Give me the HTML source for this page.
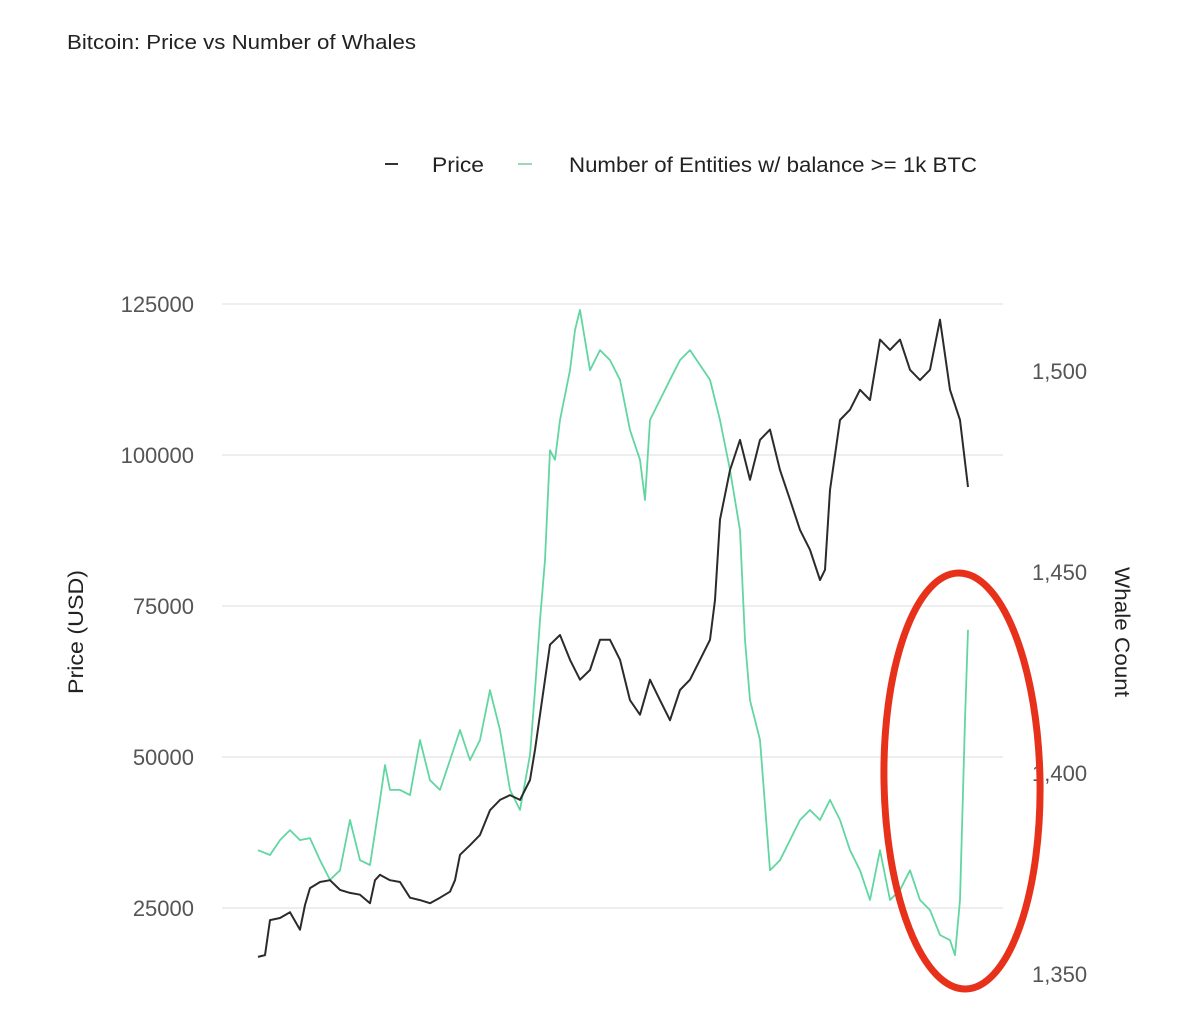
<!DOCTYPE html>
<html><head><meta charset="utf-8">
<style>
html,body{margin:0;padding:0;background:#fff;width:1200px;height:1020px;overflow:hidden;}
svg text{font-family:"Liberation Sans",sans-serif;}
</style></head>
<body>
<svg id="chart" width="1200" height="1020">
  <text x="67" y="49" font-size="20" fill="#222" textLength="349" lengthAdjust="spacingAndGlyphs">Bitcoin: Price vs Number of Whales</text>
  <g>
    <line x1="385" y1="164" x2="398" y2="164" stroke="#333" stroke-width="2"/>
    <text x="432" y="172" font-size="21" fill="#222" textLength="52" lengthAdjust="spacingAndGlyphs">Price</text>
    <line x1="518" y1="164" x2="532" y2="164" stroke="#9bd8b8" stroke-width="2"/>
    <text x="569" y="172" font-size="21" fill="#222" textLength="408" lengthAdjust="spacingAndGlyphs">Number of Entities w/ balance &gt;= 1k BTC</text>
  </g>
  <g id="grid"></g>
  <g id="lticks"></g>
  <g id="rticks"></g>
  <text transform="translate(83,632) rotate(-90)" text-anchor="middle" font-size="21" fill="#222" textLength="124" lengthAdjust="spacingAndGlyphs">Price (USD)</text>
  <text transform="translate(1115,632) rotate(90)" text-anchor="middle" font-size="21" fill="#222" textLength="130" lengthAdjust="spacingAndGlyphs">Whale Count</text>
  <path id="whaleLine" fill="none" stroke="#62d6a0" stroke-width="1.8" stroke-linejoin="round"/>
  <path id="priceLine" fill="none" stroke="#2b2b2b" stroke-width="2" stroke-linejoin="round"/>
  <ellipse cx="962" cy="781" rx="78" ry="208" fill="none" stroke="#e8311a" stroke-width="7" transform="rotate(-1 962 781)"/>
</svg>
<script>
const priceDays = [0,7,12,22,32,42,47,52,62,72,82,92,102,112,117,122,132,142,152,162,172,182,192,197,202,212,222,232,242,252,262,272,277,287,292,302,312,322,332,342,352,362,372,382,392,402,412,422,432,442,452,457,462,472,482,492,502,512,522,532,542,552,562,567,572,582,592,602,612,622,632,642,652,662,672,682,692,702,710];
const priceValues = [16900,17200,23000,23350,24300,21400,25500,28300,29300,29600,28000,27500,27200,25800,29600,30500,29600,29300,26700,26300,25800,26700,27700,29600,33800,35400,37100,41200,42900,43700,42900,46200,51200,62800,68600,70200,66100,62800,64400,69400,69400,66100,59400,57000,62800,59400,56100,61100,62800,66100,69400,76000,89300,97500,102500,95900,102500,104200,97500,92600,87600,84300,79300,81000,94200,105800,107500,110800,109100,119100,117400,119100,114100,112400,114100,122400,110800,105800,94700];
const whaleDays = [0,12,22,32,42,52,62,72,82,92,102,112,122,127,132,142,152,162,172,182,192,202,212,222,232,242,252,262,272,277,282,287,292,297,302,312,317,322,332,342,352,362,372,382,387,392,402,412,422,432,442,452,462,472,482,487,492,502,512,522,532,542,552,562,572,582,592,602,612,622,632,642,652,662,672,682,692,697,702,707,710];
const whaleValues = [1380.8,1379.6,1383.3,1385.8,1383.3,1383.8,1378.3,1373.4,1375.8,1388.3,1378.3,1377.1,1393.3,1402.0,1395.8,1395.8,1394.5,1408.2,1398.2,1395.8,1403.2,1410.7,1403.2,1408.2,1420.6,1410.7,1395.8,1390.8,1404.5,1420.6,1438.0,1453.0,1480.3,1477.9,1487.8,1500.2,1510.2,1515.2,1500.2,1505.2,1502.7,1497.8,1485.3,1477.9,1467.9,1487.8,1492.8,1497.8,1502.7,1505.2,1501.5,1497.8,1487.8,1475.4,1460.4,1433.1,1418.1,1408.2,1375.8,1378.3,1383.3,1388.3,1390.8,1388.3,1393.3,1388.3,1380.8,1375.8,1368.4,1380.8,1368.4,1370.9,1375.8,1368.4,1365.9,1359.7,1358.4,1354.7,1368.4,1413.2,1435.6];
const priceTicks = [25000,50000,75000,100000,125000];
const priceTickLabels = ["25000","50000","75000","100000","125000"];
const whaleTicks = [1350,1400,1450,1500];
const whaleTickLabels = ["1,350","1,400","1,450","1,500"];

const NS = "http://www.w3.org/2000/svg";
const X0 = 258, X1 = 968, DMAX = 710;
function xScale(d){ return X0 + d/DMAX*(X1-X0); }
function yPrice(v){ return 1059 - v/25000*151; }
function yWhale(v){ return 371 + (1500 - v)/50*201; }

function mk(tag, attrs, parent){
  const el = document.createElementNS(NS, tag);
  for (const k in attrs) el.setAttribute(k, attrs[k]);
  parent.appendChild(el);
  return el;
}
const grid = document.getElementById('grid');
const lt = document.getElementById('lticks');
const rt = document.getElementById('rticks');
priceTicks.forEach((t,i)=>{
  const y = yPrice(t);
  const ln = mk('line',{x1:222,x2:1003,y1:y,y2:y,stroke:'#dcdcdc','stroke-width':1},grid);
  
  
  const tx = mk('text',{x:194,y:y+8,'text-anchor':'end','font-size':22,fill:'#555'},lt);
  
  
  tx.textContent = priceTickLabels[i];
});
whaleTicks.forEach((t,i)=>{
  const y = yWhale(t);
  const tx = mk('text',{x:1032,y:y+8,'font-size':22,fill:'#555'},rt);
  
  
  tx.textContent = whaleTickLabels[i];
});
document.getElementById('priceLine').setAttribute('d',
  priceDays.map((d,i)=>(i?'L':'M')+xScale(d).toFixed(1)+' '+yPrice(priceValues[i]).toFixed(1)).join(' '));
document.getElementById('whaleLine').setAttribute('d',
  whaleDays.map((d,i)=>(i?'L':'M')+xScale(d).toFixed(1)+' '+yWhale(whaleValues[i]).toFixed(1)).join(' '));
</script>
</body></html>
